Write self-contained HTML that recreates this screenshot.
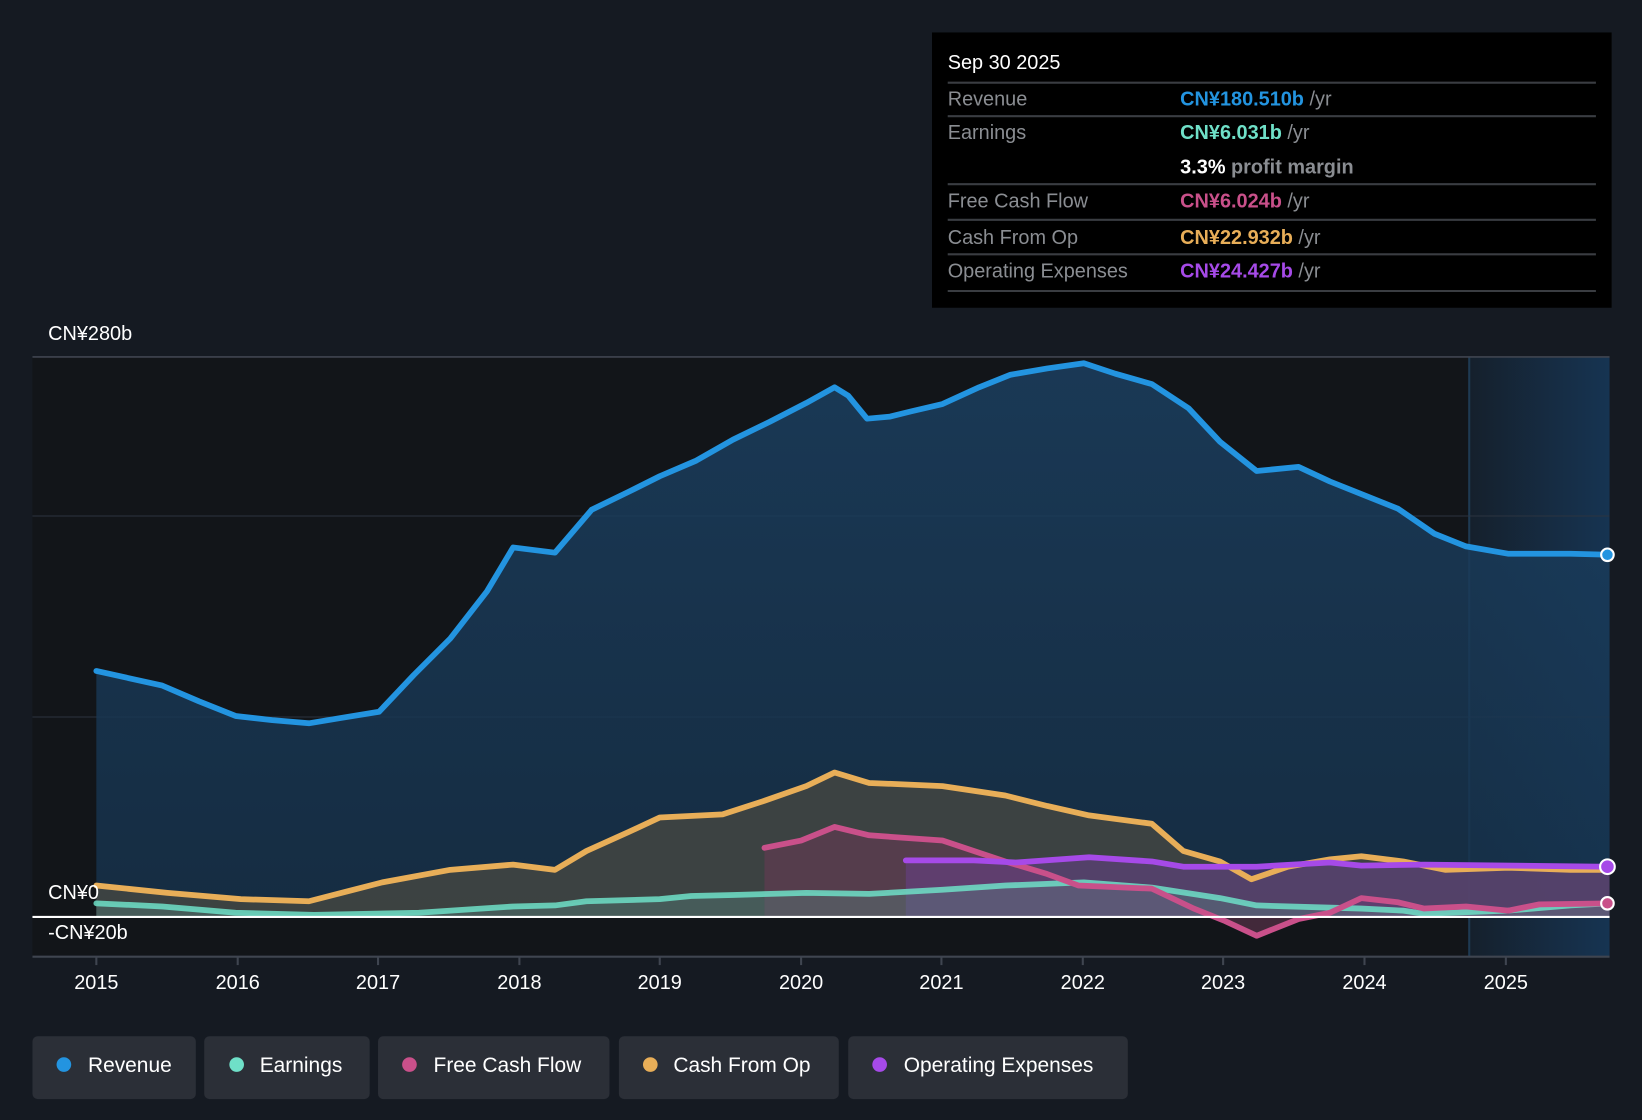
<!DOCTYPE html>
<html><head><meta charset="utf-8"><style>
html,body{margin:0;padding:0;background:#151a22;}
svg{display:block;}
text{font-family:"Liberation Sans","Noto Sans CJK SC",sans-serif;}
</style></head><body>
<svg width="1642" height="1120" viewBox="0 0 1568 1070" preserveAspectRatio="none" xmlns="http://www.w3.org/2000/svg">
<defs>
<linearGradient id="rev" x1="0" y1="0" x2="0" y2="1"><stop offset="0" stop-color="#1b3f60" stop-opacity="0.85"/><stop offset="1" stop-color="#16324c" stop-opacity="0.8"/></linearGradient>
<linearGradient id="fc" x1="0" y1="0" x2="1" y2="0"><stop offset="0" stop-color="#15202c"/><stop offset="1" stop-color="#163452"/></linearGradient>
</defs>
<rect width="1568" height="1070" fill="#151a22"/>
<rect x="31" y="341" width="1372" height="573" fill="#121519"/>
<rect x="1403" y="341" width="134" height="573" fill="url(#fc)"/>
<line x1="1403" y1="341" x2="1403" y2="914" stroke="#1e3a52" stroke-width="2"/>
<line x1="31" y1="341" x2="1537" y2="341" stroke="#3f4550" stroke-width="1.5"/>
<line x1="31" y1="493" x2="1537" y2="493" stroke="#2c3440" stroke-width="1"/>
<line x1="31" y1="685" x2="1537" y2="685" stroke="#2c3440" stroke-width="1"/>

<path fill="url(#rev)" d="M92,641 L155,655 190,670 225,684 260,688 295,691 325,686 362,680 395,645 430,610 465,565 490,523 530,528 565,487 600,470 630,455 665,440 700,420 735,403 770,385 797,370 810,378 828,400 850,398 870,393 900,386 935,370 965,358 1000,352 1035,347 1065,357 1100,367 1135,390 1165,422 1200,450 1240,446 1270,460 1300,472 1335,486 1370,510 1400,522 1440,529 1500,529 1537,530 L1537,876 L92,876 Z"/>
<path fill="#4a4a42" fill-opacity="0.75" d="M92,846 L160,853 230,859 295,861 330,852 365,843 430,831 490,826 530,831 560,813 600,795 630,781 690,778 730,765 770,751 797,738 830,748 900,751 960,760 1000,770 1040,779 1100,787 1130,813 1165,823 1195,840 1230,828 1270,821 1300,818 1340,823 1380,831 1440,829 1500,831 1537,831 L1537,876 L92,876 Z"/>
<path fill="#6a3a55" fill-opacity="0.55" d="M730,810 L765,803 797,790 830,798 900,803 960,823 1000,835 1030,846 1100,849 1140,868 1170,880 1200,894 1240,878 1270,872 1300,858 1335,862 1360,868 1400,866 1440,870 1470,864 1537,863 L1537,876 L730,876 Z"/>
<path fill="#6a3f90" fill-opacity="0.5" d="M865,822 L930,822 970,824 1040,819 1100,823 1130,828 1200,828 1270,824 1300,827 1360,826 1537,828 L1537,876 L865,876 Z"/>
<path fill="#5a8a86" fill-opacity="0.35" d="M92,863 L155,866 225,872 300,874 400,872 490,866 530,865 560,861 630,859 660,856 700,855 770,853 830,854 900,850 960,846 1035,843 1100,848 1165,858 1200,865 1300,868 1340,870 1360,873 1440,870 1500,865 1537,863 L1537,876 L92,876 Z"/>

<g fill="none" stroke-width="5.5" stroke-linejoin="round" stroke-linecap="round">
<path stroke="#e8ae58" d="M92,846 L160,853 230,859 295,861 330,852 365,843 430,831 490,826 530,831 560,813 600,795 630,781 690,778 730,765 770,751 797,738 830,748 900,751 960,760 1000,770 1040,779 1100,787 1130,813 1165,823 1195,840 1230,828 1270,821 1300,818 1340,823 1380,831 1440,829 1500,831 1537,831"/>
<path stroke="#6fe0c8" d="M92,863 L155,866 225,872 300,874 400,872 490,866 530,865 560,861 630,859 660,856 700,855 770,853 830,854 900,850 960,846 1035,843 1100,848 1165,858 1200,865 1300,868 1340,870 1360,873 1440,870 1500,865 1537,863" stroke-opacity="0.85"/>
<path stroke="#c9508a" d="M730,810 L765,803 797,790 830,798 900,803 960,823 1000,835 1030,846 1100,849 1140,868 1170,880 1200,894 1240,878 1270,872 1300,858 1335,862 1360,868 1400,866 1440,870 1470,864 1537,863"/>
<path stroke="#a64ae8" d="M865,822 L930,822 970,824 1040,819 1100,823 1130,828 1200,828 1270,824 1300,827 1360,826 1537,828"/>
<path stroke="#2394e0" d="M92,641 L155,655 190,670 225,684 260,688 295,691 325,686 362,680 395,645 430,610 465,565 490,523 530,528 565,487 600,470 630,455 665,440 700,420 735,403 770,385 797,370 810,378 828,400 850,398 870,393 900,386 935,370 965,358 1000,352 1035,347 1065,357 1100,367 1135,390 1165,422 1200,450 1240,446 1270,460 1300,472 1335,486 1370,510 1400,522 1440,529 1500,529 1537,530"/>
</g>
<line x1="31" y1="876" x2="1537" y2="876" stroke="#ffffff" stroke-width="2"/>
<line x1="31" y1="914" x2="1537" y2="914" stroke="#3f4550" stroke-width="2"/>
<circle cx="1535" cy="530" r="6" fill="#2394e0" stroke="#fff" stroke-width="2"/>
<circle cx="1535" cy="828" r="7" fill="#a64ae8" stroke="#fff" stroke-width="2"/>
<circle cx="1535" cy="863" r="6" fill="#c9508a" stroke="#fff" stroke-width="2"/>

<g fill="#ffffff" font-size="19">
<text x="46" y="325">CN¥280b</text>
<text x="46" y="859">CN¥0</text>
<text x="46" y="897">-CN¥20b</text>
</g>
<g stroke="#3f4550" stroke-width="2">
<line x1="92" y1="914" x2="92" y2="922"/><line x1="227" y1="914" x2="227" y2="922"/><line x1="361" y1="914" x2="361" y2="922"/><line x1="496" y1="914" x2="496" y2="922"/><line x1="630" y1="914" x2="630" y2="922"/><line x1="765" y1="914" x2="765" y2="922"/><line x1="899" y1="914" x2="899" y2="922"/><line x1="1034" y1="914" x2="1034" y2="922"/><line x1="1168" y1="914" x2="1168" y2="922"/><line x1="1303" y1="914" x2="1303" y2="922"/><line x1="1438" y1="914" x2="1438" y2="922"/>
</g>
<g fill="#ffffff" font-size="19" text-anchor="middle">
<text x="92" y="945">2015</text><text x="227" y="945">2016</text><text x="361" y="945">2017</text><text x="496" y="945">2018</text><text x="630" y="945">2019</text><text x="765" y="945">2020</text><text x="899" y="945">2021</text><text x="1034" y="945">2022</text><text x="1168" y="945">2023</text><text x="1303" y="945">2024</text><text x="1438" y="945">2025</text>
</g>

<rect x="890" y="31" width="649" height="263" fill="#000000"/>
<g stroke="#3a3d42" stroke-width="2">
<line x1="905" y1="79" x2="1524" y2="79"/><line x1="905" y1="111" x2="1524" y2="111"/><line x1="905" y1="176" x2="1524" y2="176"/><line x1="905" y1="210" x2="1524" y2="210"/><line x1="905" y1="243" x2="1524" y2="243"/><line x1="905" y1="278" x2="1524" y2="278"/>
</g>
<g font-size="19">
<text x="905" y="66" fill="#fff">Sep 30 2025</text>
<text x="905" y="101" fill="#8a8d92">Revenue</text>
<text x="905" y="133" fill="#8a8d92">Earnings</text>
<text x="905" y="198" fill="#8a8d92">Free Cash Flow</text>
<text x="905" y="233" fill="#8a8d92">Cash From Op</text>
<text x="905" y="265" fill="#8a8d92">Operating Expenses</text>
<text x="1127" y="101" font-weight="bold"><tspan fill="#2394e0">CN¥180.510b</tspan><tspan fill="#8a8d92" font-weight="normal"> /yr</tspan></text>
<text x="1127" y="133" font-weight="bold"><tspan fill="#6fe0c8">CN¥6.031b</tspan><tspan fill="#8a8d92" font-weight="normal"> /yr</tspan></text>
<text x="1127" y="166" font-weight="bold"><tspan fill="#fff">3.3%</tspan><tspan fill="#8a8d92"> profit margin</tspan></text>
<text x="1127" y="198" font-weight="bold"><tspan fill="#c9508a">CN¥6.024b</tspan><tspan fill="#8a8d92" font-weight="normal"> /yr</tspan></text>
<text x="1127" y="233" font-weight="bold"><tspan fill="#e8ae58">CN¥22.932b</tspan><tspan fill="#8a8d92" font-weight="normal"> /yr</tspan></text>
<text x="1127" y="265" font-weight="bold"><tspan fill="#a64ae8">CN¥24.427b</tspan><tspan fill="#8a8d92" font-weight="normal"> /yr</tspan></text>
</g>

<g fill="#2b2f37">
<rect x="31" y="990" width="156" height="60" rx="5"/>
<rect x="195" y="990" width="158" height="60" rx="5"/>
<rect x="361" y="990" width="221" height="60" rx="5"/>
<rect x="591" y="990" width="210" height="60" rx="5"/>
<rect x="810" y="990" width="267" height="60" rx="5"/>
</g>
<circle cx="61" cy="1017" r="7" fill="#2394e0"/>
<circle cx="226" cy="1017" r="7" fill="#6fe0c8"/>
<circle cx="391" cy="1017" r="7" fill="#c9508a"/>
<circle cx="621" cy="1017" r="7" fill="#e8ae58"/>
<circle cx="840" cy="1017" r="7" fill="#a64ae8"/>
<g fill="#ffffff" font-size="20">
<text x="84" y="1024">Revenue</text>
<text x="248" y="1024">Earnings</text>
<text x="414" y="1024">Free Cash Flow</text>
<text x="643" y="1024">Cash From Op</text>
<text x="863" y="1024">Operating Expenses</text>
</g>
</svg>
</body></html>
